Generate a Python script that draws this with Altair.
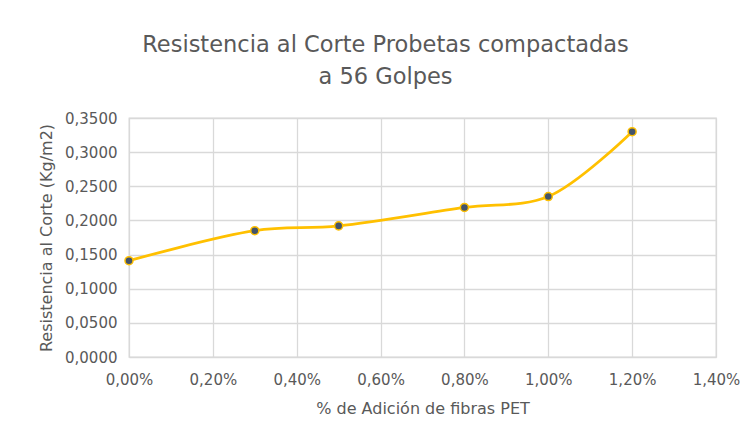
import altair as alt
import pandas as pd

fibra = [0.0, 0.003, 0.005, 0.008, 0.010, 0.012]
resistencia = [0.141, 0.185, 0.192, 0.219, 0.235, 0.330]
x_ticks = [0.0, 0.002, 0.004, 0.006, 0.008, 0.010, 0.012, 0.014]
y_ticks = [0.0, 0.05, 0.10, 0.15, 0.20, 0.25, 0.30, 0.35]

df = pd.DataFrame({"fibra": fibra, "resistencia": resistencia})

FONT = "DejaVu Sans"
GRAY = "#595959"

x = alt.X("fibra:Q", scale=alt.Scale(domain=[0, 0.014], nice=False),
          axis=alt.Axis(values=x_ticks, title="% de Adición de fibras PET",
                        labelExpr="replace(format(datum.value, '.2%'), '.', ',')",
                        labelFlush=False, labelOverlap=False,
                        labelPadding=15, titlePadding=13))
y = alt.Y("resistencia:Q", scale=alt.Scale(domain=[0, 0.35], nice=False),
          axis=alt.Axis(values=y_ticks, title="Resistencia al Corte (Kg/m2)",
                        labelExpr="replace(format(datum.value, '.4f'), '.', ',')",
                        labelFlush=False, labelOverlap=False,
                        labelPadding=12, titlePadding=10))

line = alt.Chart(df).mark_line(color="#FFC000", strokeWidth=2.8,
                               interpolate="catmull-rom").encode(x=x, y=y)
pts = alt.Chart(df).mark_point(filled=True, fill="#44546A", stroke="#FFC000",
                               strokeWidth=1.5, size=65, opacity=1).encode(x=x, y=y)

chart = (line + pts).properties(
    width=587, height=239,
    autosize=alt.AutoSizeParams(type="none"),
    padding={"left": 121, "top": 110, "right": 26, "bottom": 69},
    title=alt.TitleParams(["Resistencia al Corte Probetas compactadas", "a 56 Golpes"],
                          fontSize=22.5, font=FONT, fontWeight="normal", color=GRAY,
                          anchor="middle", dx=-37, offset=23, lineHeight=32),
).configure_axis(
    labelFont=FONT, titleFont=FONT, labelFontSize=15, titleFontSize=16,
    labelColor=GRAY, titleColor=GRAY, titleFontWeight="normal",
    gridColor="#D9D9D9", gridWidth=1.3, domain=False, ticks=False,
).configure_view(stroke="#D9D9D9", strokeWidth=1.3)

chart.save("out.html", embed_options={"renderer": "svg", "actions": False})
